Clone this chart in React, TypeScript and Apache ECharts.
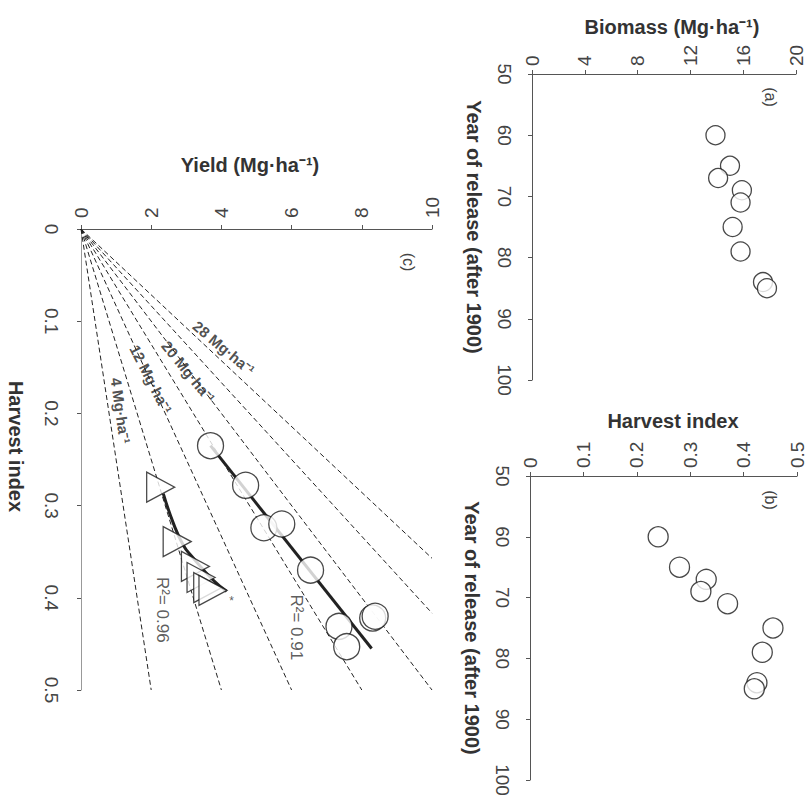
import React, { useEffect, useRef } from "react";
import * as echarts from "echarts";

// Panels (a) and (b): cultivars by year of release
const releaseYears = [60, 65, 67, 69, 71, 75, 79, 84, 85];
const biomassValues = [13.9, 15.0, 14.1, 15.9, 15.8, 15.2, 15.8, 17.5, 17.8];
const harvestIndexValues = [0.24, 0.28, 0.33, 0.32, 0.37, 0.455, 0.435, 0.425, 0.42];

// Panel (c): yield vs harvest index
const circleYield = [3.69, 4.69, 5.21, 5.72, 6.54, 7.35, 7.57, 8.31, 8.38];
const circleHI = [0.235, 0.278, 0.324, 0.32, 0.37, 0.431, 0.453, 0.422, 0.42];
const triangleYield = [2.27, 2.74, 3.26, 3.42, 3.61, 3.76];
const triangleHI = [0.28, 0.339, 0.366, 0.378, 0.389, 0.392];

// Regression lines
const circleFitYield = [3.69, 8.28];
const circleFitHI = [0.235, 0.455];
const triangleFitYield = [2.345, 2.63, 2.915, 3.154, 3.77, 4.15];
const triangleFitHI = [0.287, 0.319, 0.343, 0.355, 0.381, 0.393];

// Iso-biomass reference lines (Mg/ha)
const biomassLevels = [4, 8, 12, 16, 20, 24, 28];
const yieldMax = 10;
const hiMax = 0.5;

// Labels on iso lines
const isoLabelNames = ["28 Mg·ha⁻¹", "20 Mg·ha⁻¹", "12 Mg·ha⁻¹", "4 Mg·ha⁻¹"];
const isoLabelYield = [4.07, 3.06, 1.99, 1.13];
const isoLabelHI = [0.129, 0.155, 0.163, 0.197];
const isoLabelAngle = [-40, -51, -63, -82];

// R² annotations
const r2Names = ["R²= 0.91", "R²= 0.96", "*"];
const r2Yield = [6.13, 2.31, 4.29];
const r2HI = [0.432, 0.413, 0.404];

const FONT = "'Liberation Sans', Arial, sans-serif";
const AXIS_COLOR = "#555";
const TEXT_COLOR = "#333";

function axisCommon() {
  return {
    axisLine: { show: true, onZero: false, lineStyle: { color: AXIS_COLOR, width: 1 } },
    axisTick: { show: true, length: 4, lineStyle: { color: AXIS_COLOR } },
    splitLine: { show: false },
    nameTextStyle: { fontSize: 20, fontWeight: "bold", color: TEXT_COLOR, fontFamily: FONT },
  };
}

export default function App() {
  const ref = useRef<HTMLDivElement>(null);
  useEffect(() => {
    if (!ref.current) return;
    const chart = echarts.init(ref.current, null, { renderer: "svg" });

    const tickLabel = (margin: number) => ({
      rotate: -90,
      fontSize: 19,
      color: "#444",
      margin,
      fontFamily: FONT,
    });

    const isoSeries = biomassLevels.map((b) => {
      const hEnd = Math.min(hiMax, yieldMax / b);
      return {
        type: "line",
        xAxisIndex: 2,
        yAxisIndex: 2,
        data: [
          [0, 0],
          [b * hEnd, hEnd],
        ],
        showSymbol: false,
        symbol: "none",
        silent: true,
        z: 2,
        lineStyle: { color: "#222", width: 1, type: [5, 3] },
      };
    });

    const whiteItem = { color: "#fff", borderColor: "#1a1a1a", borderWidth: 1.3 };

    chart.setOption({
      animation: false,
      backgroundColor: "#fff",
      textStyle: { fontFamily: FONT },
      grid: [
        { left: 532, top: 74, width: 264, height: 306 },
        { left: 530, top: 476, width: 267, height: 304 },
        { left: 81, top: 229, width: 351, height: 461 },
      ],
      xAxis: [
        {
          ...axisCommon(),
          gridIndex: 0,
          type: "value",
          position: "top",
          min: 0,
          max: 20,
          interval: 4,
          name: "Biomass (Mg·ha⁻¹)",
          nameLocation: "middle",
          nameGap: 37,
          nameTextStyle: { ...axisCommon().nameTextStyle, padding: [0, 0, 0, 16] },
          axisLabel: tickLabel(8),
        },
        {
          ...axisCommon(),
          gridIndex: 1,
          type: "value",
          position: "top",
          min: 0,
          max: 0.5,
          interval: 0.1,
          name: "Harvest index",
          nameLocation: "middle",
          nameGap: 45,
          nameTextStyle: { ...axisCommon().nameTextStyle, padding: [0, 0, 0, 19] },
          axisLabel: tickLabel(8),
        },
        {
          ...axisCommon(),
          gridIndex: 2,
          type: "value",
          position: "top",
          min: 0,
          max: 10,
          interval: 2,
          name: "Yield (Mg·ha⁻¹)",
          nameLocation: "middle",
          nameGap: 54,
          nameTextStyle: { ...axisCommon().nameTextStyle, padding: [0, 13, 0, 0] },
          axisLabel: tickLabel(11),
        },
      ],
      yAxis: [
        {
          ...axisCommon(),
          gridIndex: 0,
          type: "value",
          position: "left",
          inverse: true,
          min: 50,
          max: 100,
          interval: 10,
          name: "Year of release (after 1900)",
          nameLocation: "middle",
          nameRotate: -90,
          nameGap: 48,
          axisLabel: tickLabel(18),
        },
        {
          ...axisCommon(),
          gridIndex: 1,
          type: "value",
          position: "left",
          inverse: true,
          min: 50,
          max: 100,
          interval: 10,
          name: "Year of release (after 1900)",
          nameLocation: "middle",
          nameRotate: -90,
          nameGap: 48,
          axisLabel: tickLabel(18),
        },
        {
          ...axisCommon(),
          gridIndex: 2,
          type: "value",
          position: "left",
          inverse: true,
          min: 0,
          max: 0.5,
          interval: 0.1,
          name: "Harvest index",
          nameLocation: "middle",
          nameRotate: -90,
          nameGap: 55,
          nameTextStyle: { ...axisCommon().nameTextStyle, padding: [0, 26, 0, 0] },
          axisLine: { show: true, onZero: false, lineStyle: { color: "#999", width: 1 } },
          axisLabel: tickLabel(20),
        },
      ],
      graphic: [
        { type: "text", x: 770, y: 97, rotation: -Math.PI / 2, style: { text: "(a)", fontSize: 16, fill: "#444", align: "center", verticalAlign: "middle", fontFamily: FONT } },
        { type: "text", x: 770, y: 500, rotation: -Math.PI / 2, style: { text: "(b)", fontSize: 16, fill: "#444", align: "center", verticalAlign: "middle", fontFamily: FONT } },
        { type: "text", x: 408, y: 262, rotation: -Math.PI / 2, style: { text: "(c)", fontSize: 16, fill: "#444", align: "center", verticalAlign: "middle", fontFamily: FONT } },
      ],
      series: [
        {
          type: "scatter",
          xAxisIndex: 0,
          yAxisIndex: 0,
          symbol: "circle",
          symbolSize: 19,
          itemStyle: whiteItem,
          data: releaseYears.map((y, i) => [biomassValues[i], y]),
          z: 4,
        },
        {
          type: "scatter",
          xAxisIndex: 1,
          yAxisIndex: 1,
          symbol: "circle",
          symbolSize: 20,
          itemStyle: whiteItem,
          data: releaseYears.map((y, i) => [harvestIndexValues[i], y]),
          z: 4,
        },
        ...isoSeries,
        {
          type: "line",
          xAxisIndex: 2,
          yAxisIndex: 2,
          data: circleFitYield.map((v, i) => [v, circleFitHI[i]]),
          showSymbol: false,
          symbol: "none",
          z: 3,
          lineStyle: { color: "#222", width: 3 },
        },
        {
          type: "line",
          xAxisIndex: 2,
          yAxisIndex: 2,
          data: triangleFitYield.map((v, i) => [v, triangleFitHI[i]]),
          showSymbol: false,
          symbol: "none",
          smooth: true,
          z: 3,
          lineStyle: { color: "#222", width: 3 },
        },
        {
          type: "scatter",
          xAxisIndex: 2,
          yAxisIndex: 2,
          symbol: "circle",
          symbolSize: 26,
          itemStyle: whiteItem,
          data: circleYield.map((v, i) => [v, circleHI[i]]),
          z: 4,
        },
        {
          type: "scatter",
          xAxisIndex: 2,
          yAxisIndex: 2,
          symbol: "triangle",
          symbolRotate: -90,
          symbolSize: [30, 28],
          itemStyle: whiteItem,
          data: triangleYield.map((v, i) => [v, triangleHI[i]]),
          z: 4,
        },
        {
          type: "scatter",
          xAxisIndex: 2,
          yAxisIndex: 2,
          symbolSize: 1,
          itemStyle: { color: "transparent" },
          silent: true,
          z: 5,
          label: {
            show: true,
            position: "inside",
            formatter: "{b}",
            fontSize: 15,
            fontWeight: "bold",
            color: "#222",
            fontFamily: FONT,
          },
          data: isoLabelNames.map((n, i) => ({
            name: n,
            value: [isoLabelYield[i], isoLabelHI[i]],
            label: { rotate: isoLabelAngle[i] },
          })),
        },
        {
          type: "scatter",
          xAxisIndex: 2,
          yAxisIndex: 2,
          symbolSize: 1,
          itemStyle: { color: "transparent" },
          silent: true,
          z: 5,
          label: {
            show: true,
            position: "inside",
            formatter: "{b}",
            fontSize: 17,
            color: "#333",
            rotate: -90,
            fontFamily: FONT,
          },
          data: r2Names.map((n, i) => ({
            name: n,
            value: [r2Yield[i], r2HI[i]],
            label: n === "*" ? { rotate: 0, fontSize: 12 } : {},
          })),
        },
      ],
    });
    return () => chart.dispose();
  }, []);

  return (
    <div
      ref={ref}
      style={{ position: "fixed", left: 0, top: 0, width: 812, height: 805, background: "#fff" }}
    />
  );
}
